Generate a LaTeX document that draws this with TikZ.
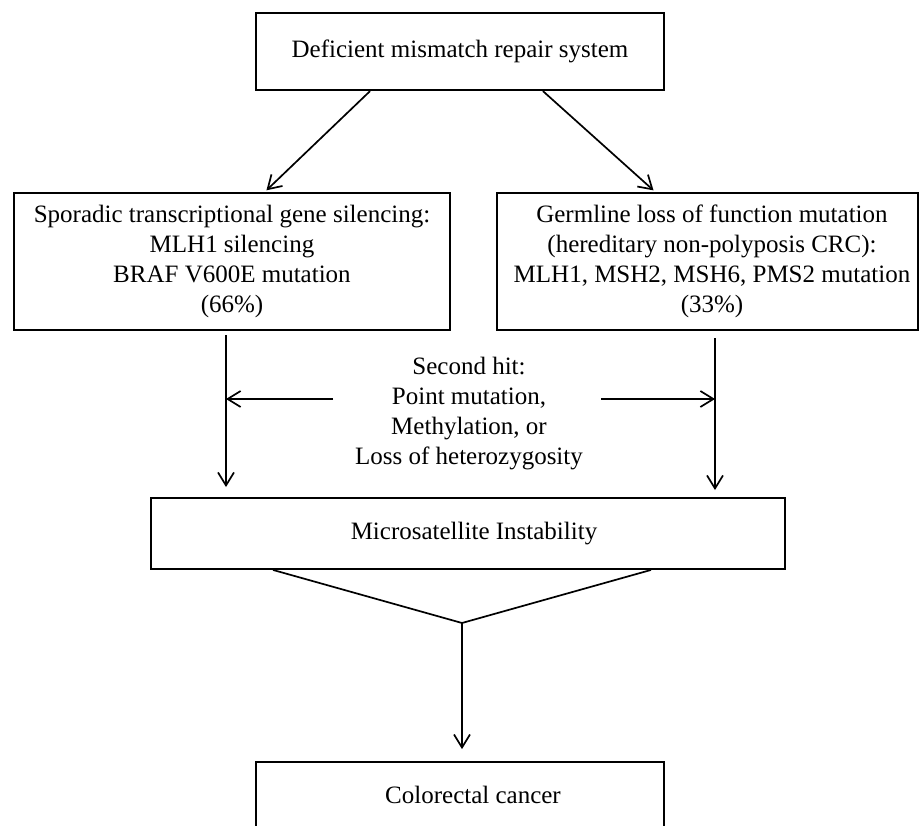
\documentclass[tikz,border=0pt]{standalone}
\usepackage{fontspec}
\setmainfont{Liberation Serif}
\usetikzlibrary{arrows.meta}
\begin{document}
\begin{tikzpicture}[x=1pt,y=-1pt,
  txt/.style={align=center, inner sep=0pt, font=\fontsize{25}{30}\selectfont},
  box/.style={txt, draw, rectangle},
  arr/.style={line width=1.7pt, -{Straight Barb[length=13pt,width=16pt]}},
  link/.style={line width=1.7pt}]
\useasboundingbox (0,0) rectangle (919,826);
\clip (0,0) rectangle (919,826);
\node[box, line width=2.3pt, minimum width=408pt, minimum height=77pt] (top) at (460,51.5) {Deficient mismatch repair system};
\node[box, line width=2.6pt, minimum width=436pt, minimum height=137pt] (left) at (232,261.5) {Sporadic transcriptional gene silencing:\\ MLH1 silencing\\ BRAF V600E mutation\\ (66\%)};
\node[box, line width=2.6pt, minimum width=421pt, minimum height=137pt] (right) at (707.5,261.5) {\hspace*{9pt}Germline loss of function mutation\\ \hspace*{9pt}(hereditary non-polyposis CRC):\\ \hspace*{9pt}MLH1, MSH2, MSH6, PMS2 mutation\\ \hspace*{9pt}(33\%)};
\node[txt] (hit) at (469,413.5) {Second hit:\\ Point mutation,\\ Methylation, or\\ Loss of heterozygosity};
\node[box, line width=1.9pt, minimum width=634pt, minimum height=71pt] (msi) at (468,533.5) {\hspace*{12pt}Microsatellite Instability};
\node[box, line width=1.8pt, minimum width=408pt, minimum height=66pt] (crc) at (460,795) {\hspace*{26pt}Colorectal cancer};
% diagonal arrows
\draw[arr, shorten >=2pt] ([xshift=-90pt]top.south) -- ([xshift=33pt]left.north);
\draw[arr, shorten >=2pt] ([xshift=83pt]top.south) -- ([xshift=-52.5pt]right.north);
% vertical arrows
\draw[arr, shorten <=4pt, shorten >=10pt] ([xshift=-6pt]left.south) -- ([xshift=-242pt]msi.north);
\draw[arr, shorten <=7pt, shorten >=7pt] ([xshift=7.5pt]right.south) -- ([xshift=247pt]msi.north);
% second hit arrows
\coordinate (hL) at (333,399);
\coordinate (hR) at (601,399);
\coordinate (lv) at (226,399);
\coordinate (rv) at (715,399);
\draw[arr] (hL) -- (lv);
\draw[arr] (hR) -- (rv);
% merge
\coordinate (vm) at (462,623);
\draw[link] ([xshift=-195pt]msi.south) -- (vm) -- ([xshift=183pt]msi.south);
\draw[arr, shorten >=12pt] (vm) -- (vm |- crc.north);
\end{tikzpicture}
\end{document}
